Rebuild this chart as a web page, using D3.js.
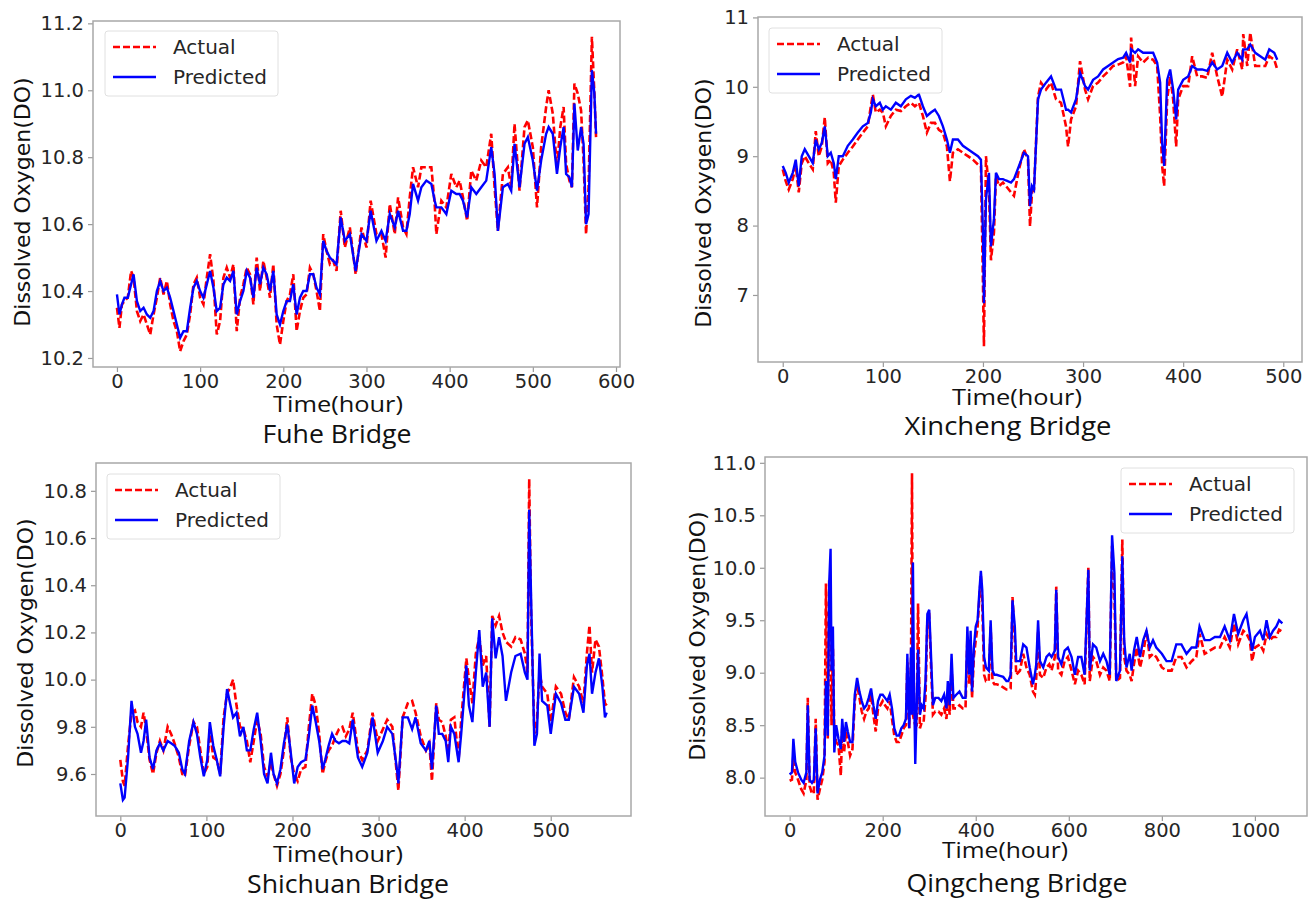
<!DOCTYPE html>
<html>
<head>
<meta charset="utf-8">
<script src="https://cdn.jsdelivr.net/npm/d3@7"></script>
<style>
body { margin: 0; background: #fff; }
.tick text { font-family: "DejaVu Sans", sans-serif; fill: #262626; }
</style>
</head>
<body>
<div class="main"></div>
<script>
const WIDTH = 1309;
const HEIGHT = 901;

// Fuhe Bridge
const fuheHours = [0,3,6,9,13,17,20,24,28,32,36,40,44,48,52,56,60,64,68,72,76,80,84,88,92,96,100,104,108,112,116,120,124,128,132,136,140,144,148,152,156,160,164,168,172,176,180,184,188,192,196,200,204,208,212,216,220,224,228,232,236,240,244,248,252,256,260,264,269,274,280,287,294,300,305,312,318,323,328,334,338,344,348,352,356,362,366,372,378,382,384,390,396,402,408,412,416,421,426,432,438,444,450,454,458,464,470,474,478,484,490,494,500,505,510,516,519,524,529,533,537,540,544,547,550,554,558,561,564,567,571,574,576];
const fuheActual = [10.35,10.29,10.36,10.37,10.38,10.46,10.44,10.34,10.31,10.33,10.30,10.27,10.33,10.38,10.44,10.39,10.43,10.36,10.31,10.28,10.22,10.25,10.27,10.33,10.42,10.44,10.38,10.36,10.44,10.51,10.43,10.27,10.31,10.44,10.47,10.44,10.48,10.28,10.38,10.42,10.47,10.45,10.36,10.50,10.40,10.49,10.44,10.38,10.48,10.30,10.24,10.31,10.37,10.39,10.45,10.28,10.34,10.38,10.39,10.47,10.45,10.40,10.34,10.57,10.52,10.48,10.49,10.46,10.64,10.53,10.59,10.45,10.59,10.53,10.67,10.57,10.57,10.50,10.66,10.57,10.68,10.59,10.57,10.68,10.77,10.71,10.77,10.77,10.77,10.66,10.57,10.67,10.65,10.75,10.71,10.73,10.68,10.61,10.76,10.73,10.79,10.77,10.87,10.71,10.58,10.75,10.77,10.71,10.90,10.70,10.89,10.91,10.83,10.65,10.83,10.95,11.00,10.93,10.77,10.89,10.95,10.78,10.73,10.71,11.02,10.99,10.94,10.79,10.57,10.71,11.16,10.99,10.86];
const fuhePredicted = [10.39,10.33,10.36,10.38,10.38,10.42,10.45,10.37,10.34,10.35,10.33,10.32,10.34,10.40,10.43,10.40,10.41,10.38,10.34,10.30,10.26,10.28,10.28,10.35,10.41,10.43,10.40,10.38,10.42,10.46,10.41,10.34,10.35,10.42,10.44,10.43,10.46,10.33,10.37,10.40,10.46,10.44,10.38,10.47,10.42,10.47,10.45,10.40,10.46,10.33,10.30,10.34,10.37,10.37,10.42,10.33,10.38,10.40,10.40,10.45,10.45,10.41,10.39,10.55,10.52,10.50,10.49,10.48,10.62,10.55,10.57,10.46,10.57,10.55,10.64,10.55,10.58,10.55,10.63,10.59,10.64,10.58,10.58,10.63,10.72,10.67,10.71,10.73,10.72,10.67,10.65,10.65,10.63,10.70,10.69,10.69,10.67,10.62,10.71,10.69,10.71,10.73,10.83,10.75,10.58,10.71,10.72,10.70,10.84,10.71,10.84,10.86,10.79,10.70,10.79,10.87,10.89,10.87,10.75,10.83,10.89,10.75,10.74,10.71,10.96,10.82,10.89,10.84,10.60,10.63,11.06,10.99,10.87];

// Xincheng Bridge
const xinchengHours = [0,3,6,10,13,16,19,22,26,30,33,36,39,42,45,48,51,53,56,60,65,70,75,80,85,88,90,93,97,100,103,108,113,118,123,128,132,136,140,144,148,152,156,160,164,167,170,175,180,185,190,195,198,200,201,203,206,208,211,213,216,220,223,228,231,236,241,245,247,249,251,255,258,263,268,273,278,283,285,288,293,297,302,305,310,315,320,325,330,335,340,343,347,348,352,355,360,365,370,374,377,379,381,384,387,390,393,395,400,405,409,414,419,424,429,434,439,444,449,454,459,460,464,467,472,477,482,486,491,494];
const xinchengActual = [8.81,8.64,8.52,8.67,8.86,8.48,8.90,9.00,8.90,8.81,9.36,9.00,9.14,9.56,8.90,8.95,8.76,8.33,8.86,8.95,9.05,9.14,9.24,9.34,9.43,9.72,9.89,9.63,9.67,9.63,9.43,9.58,9.67,9.65,9.72,9.77,9.72,9.77,9.58,9.34,9.48,9.48,9.38,9.34,9.14,8.64,9.05,9.10,9.05,9.00,8.95,8.88,8.86,7.18,6.26,9.00,8.52,7.50,7.90,8.71,8.57,8.62,8.57,8.48,8.43,8.81,9.10,8.95,7.99,8.48,8.52,9.86,10.06,9.96,10.06,9.82,9.77,9.43,9.14,9.53,9.72,10.37,9.96,9.82,10.01,10.06,10.15,10.22,10.30,10.32,10.35,10.44,10.00,10.71,10.01,10.44,10.35,10.42,10.39,10.30,9.58,8.86,8.57,9.82,10.15,9.82,9.14,9.82,10.01,10.01,10.44,10.15,10.15,10.13,10.49,10.15,9.86,10.39,10.25,10.54,10.25,10.76,10.30,10.78,10.30,10.30,10.30,10.44,10.39,10.25];
const xinchengPredicted = [8.86,8.76,8.62,8.76,8.95,8.57,9.00,9.10,9.00,8.90,9.24,9.10,9.19,9.43,9.00,9.05,8.90,8.67,9.00,9.00,9.15,9.24,9.34,9.43,9.48,9.63,9.82,9.72,9.77,9.67,9.72,9.67,9.77,9.72,9.82,9.87,9.84,9.89,9.72,9.58,9.63,9.67,9.58,9.43,9.24,9.05,9.24,9.24,9.15,9.10,9.05,9.00,8.95,7.90,6.88,8.38,8.76,7.70,8.10,8.76,8.67,8.67,8.65,8.62,8.67,8.86,9.05,9.00,8.28,8.57,8.52,9.82,9.96,10.06,10.15,9.96,9.96,9.67,9.67,9.63,9.82,10.20,10.01,9.96,10.10,10.15,10.25,10.30,10.35,10.40,10.42,10.49,10.35,10.54,10.49,10.54,10.49,10.49,10.49,10.35,10.06,9.19,8.86,10.10,10.25,9.96,9.53,9.96,10.10,10.15,10.30,10.25,10.25,10.23,10.35,10.25,10.30,10.49,10.35,10.49,10.39,10.54,10.54,10.61,10.49,10.44,10.39,10.54,10.49,10.39];

// Shichuan Bridge
const shichuanHours = [0,3,5,9,13,17,20,24,27,30,34,38,42,46,50,55,59,63,68,72,75,80,85,89,93,97,101,104,108,112,116,120,124,128,131,135,139,143,147,151,155,159,163,167,171,175,178,182,186,190,194,198,202,206,210,215,219,223,227,231,235,238,242,246,250,254,258,262,266,270,276,281,287,293,299,305,310,316,322,323,328,334,339,343,349,355,359,362,367,370,374,378,381,384,388,393,396,399,402,405,409,413,417,421,425,429,432,436,440,444,448,454,459,465,470,473,475,477,481,484,487,490,496,500,506,512,517,521,527,533,538,542,545,548,552,556,560,563,565];
const shichuanActual = [9.66,9.57,9.55,9.72,9.86,9.87,9.82,9.80,9.86,9.79,9.66,9.60,9.69,9.74,9.70,9.80,9.77,9.73,9.67,9.60,9.59,9.72,9.82,9.80,9.70,9.60,9.63,9.79,9.67,9.66,9.60,9.84,9.94,9.97,10.00,9.89,9.80,9.79,9.74,9.65,9.74,9.83,9.77,9.63,9.59,9.65,9.60,9.55,9.60,9.70,9.84,9.67,9.60,9.57,9.62,9.63,9.80,9.94,9.89,9.77,9.60,9.65,9.70,9.72,9.76,9.79,9.80,9.76,9.79,9.86,9.70,9.66,9.70,9.86,9.74,9.79,9.83,9.80,9.57,9.53,9.84,9.90,9.91,9.86,9.76,9.70,9.73,9.57,9.90,9.83,9.82,9.76,9.69,9.83,9.84,9.66,9.83,9.96,10.09,10.00,9.90,10.11,10.18,10.06,10.10,9.80,10.27,10.23,10.27,10.20,10.16,10.14,10.18,10.17,10.11,10.03,10.85,10.31,9.77,9.83,10.03,9.97,9.94,9.82,9.97,9.94,9.86,9.83,10.01,9.97,9.90,10.11,10.23,10.03,10.17,10.14,10.01,9.90,9.89];
const shichuanPredicted = [9.56,9.49,9.50,9.67,9.91,9.80,9.77,9.69,9.74,9.83,9.67,9.62,9.70,9.73,9.70,9.74,9.73,9.72,9.69,9.62,9.60,9.74,9.82,9.77,9.67,9.59,9.66,9.82,9.72,9.66,9.59,9.80,9.96,9.89,9.84,9.86,9.76,9.80,9.70,9.70,9.79,9.86,9.74,9.60,9.56,9.69,9.60,9.56,9.62,9.73,9.81,9.69,9.56,9.63,9.65,9.66,9.76,9.89,9.82,9.74,9.62,9.66,9.72,9.77,9.74,9.73,9.74,9.74,9.73,9.83,9.67,9.63,9.69,9.84,9.69,9.74,9.80,9.77,9.60,9.56,9.84,9.84,9.79,9.84,9.73,9.70,9.74,9.62,9.89,9.77,9.77,9.74,9.65,9.80,9.77,9.65,9.77,9.91,10.06,9.89,9.82,10.03,10.21,9.97,10.03,9.80,10.26,10.09,10.18,10.10,9.91,10.03,10.10,10.11,10.03,10.00,10.72,10.38,9.72,9.77,10.11,9.91,9.89,9.77,9.94,9.90,9.83,9.83,9.97,9.94,9.86,10.06,10.11,9.94,10.03,10.09,9.97,9.84,9.86];

// Qingcheng Bridge
const qingchengHours = [0,5,8,12,18,25,30,36,39,43,48,52,56,60,65,70,75,78,82,85,88,90,93,96,100,105,110,113,117,121,125,130,135,140,145,150,155,160,165,170,175,180,185,190,195,200,205,210,215,220,225,230,235,240,245,250,253,257,261,263,265,267,270,273,276,280,284,288,292,296,300,304,308,313,320,326,332,337,340,344,348,352,358,365,372,378,382,386,389,392,396,400,404,408,411,414,418,422,428,432,436,440,445,452,459,466,470,475,479,484,487,495,502,509,516,523,527,530,534,538,545,552,558,563,570,573,577,584,591,598,606,613,620,627,634,642,645,652,659,667,674,681,688,693,698,702,710,715,719,724,731,735,740,746,753,760,767,774,781,788,800,810,821,831,842,853,864,874,881,892,903,914,925,935,946,955,964,975,982,989,994,1000,1011,1018,1025,1032,1039,1046,1052,1059];
const qingchengActual = [7.97,7.98,8.21,8.05,7.98,7.89,7.85,7.98,8.76,7.92,7.85,7.85,8.56,7.79,7.89,7.98,8.15,9.85,8.37,9.88,9.31,8.50,9.24,8.44,8.34,8.31,8.02,8.47,8.24,8.44,8.34,8.21,8.27,8.73,8.89,8.76,8.63,8.56,8.63,8.66,8.79,8.60,8.44,8.66,8.69,8.73,8.69,8.66,8.73,8.56,8.40,8.34,8.34,8.40,8.47,8.50,9.11,8.47,9.15,10.90,8.60,8.55,8.50,8.50,9.66,8.47,8.53,8.53,8.76,9.50,9.53,9.05,8.60,8.63,8.63,8.60,8.66,8.56,8.79,8.60,9.05,8.66,8.66,8.69,8.66,8.66,9.34,8.89,9.31,8.76,9.15,9.31,9.44,9.73,9.92,9.66,8.98,8.92,8.92,9.44,8.92,8.89,8.89,8.88,8.86,8.84,8.84,8.85,9.72,9.31,8.98,9.02,9.18,9.05,8.98,8.82,8.79,8.95,9.40,8.98,8.95,9.05,9.08,9.02,9.15,9.82,9.02,8.98,9.11,9.15,9.02,8.89,9.02,8.98,8.89,10.00,8.92,9.15,9.11,8.98,9.05,9.02,8.92,10.21,9.73,8.92,8.95,10.27,9.15,9.02,8.98,8.92,9.08,9.24,9.05,9.18,9.40,9.15,9.18,9.15,9.05,9.02,9.02,9.15,9.15,9.05,9.11,9.15,9.37,9.18,9.21,9.24,9.24,9.34,9.24,9.47,9.27,9.40,9.37,9.31,9.11,9.24,9.27,9.21,9.37,9.31,9.34,9.34,9.41,9.39];
const qingchengPredicted = [8.03,8.05,8.37,8.15,8.05,7.98,7.95,8.05,8.69,7.98,7.95,7.98,8.47,7.85,7.98,8.05,8.21,8.92,8.40,9.85,10.18,9.02,9.44,8.24,8.50,8.37,8.27,8.56,8.34,8.53,8.44,8.34,8.34,8.79,8.95,8.82,8.73,8.66,8.69,8.76,8.85,8.69,8.56,8.73,8.79,8.79,8.76,8.73,8.79,8.66,8.47,8.40,8.40,8.47,8.50,8.56,9.18,8.47,9.24,8.60,10.05,9.00,8.13,8.66,9.22,8.60,8.69,8.66,8.92,9.56,9.60,9.15,8.69,8.76,8.76,8.73,8.79,8.66,8.92,8.69,9.18,8.76,8.79,8.82,8.76,8.76,9.44,8.98,9.40,8.82,9.24,9.44,9.50,9.79,9.97,9.79,9.15,9.05,9.02,9.50,9.02,8.98,8.98,8.97,8.96,8.92,8.92,8.98,9.69,9.44,9.11,9.11,9.27,9.24,9.05,8.89,8.98,9.08,9.50,9.11,9.05,9.15,9.18,9.15,9.21,9.79,9.15,9.08,9.21,9.24,9.15,8.98,9.15,9.15,8.98,9.98,9.02,9.27,9.24,9.11,9.18,9.11,8.98,10.31,9.95,8.92,9.02,10.11,9.31,9.05,9.18,9.02,9.21,9.34,9.15,9.31,9.40,9.24,9.31,9.24,9.18,9.11,9.11,9.27,9.27,9.18,9.24,9.24,9.44,9.31,9.31,9.34,9.34,9.44,9.31,9.56,9.37,9.50,9.56,9.37,9.21,9.34,9.40,9.31,9.50,9.34,9.40,9.44,9.50,9.47];

// tick labels
const fuheXTicks = [0, 100, 200, 300, 400, 500, 600];
const fuheYTicks = [10.2, 10.4, 10.6, 10.8, 11.0, 11.2];
const xinchengXTicks = [0, 100, 200, 300, 400, 500];
const xinchengYTicks = [7, 8, 9, 10, 11];
const shichuanXTicks = [0, 100, 200, 300, 400, 500];
const shichuanYTicks = [9.6, 9.8, 10.0, 10.2, 10.4, 10.6, 10.8];
const qingchengXTicks = [0, 200, 400, 600, 800, 1000];
const qingchengYTicks = [8.0, 8.5, 9.0, 9.5, 10.0, 10.5, 11.0];

const seriesNames = ["Actual", "Predicted"];

var svg = d3.select(".main")
    .append("svg")
        .attr("width", WIDTH)
        .attr("height", HEIGHT);

// layout of each panel: frame box, legend corner, label anchors
var panels = [
    {name: "Fuhe Bridge", hours: fuheHours, actual: fuheActual, predicted: fuhePredicted,
     xTicks: fuheXTicks, yTicks: fuheYTicks, yFmt: ".1f",
     box: [93, 21, 620, 367], legend: [105, 31],
     ylab: [22, 202], xlab: [338, 412, 130], title: [337, 443, 149]},
    {name: "Xincheng Bridge", hours: xinchengHours, actual: xinchengActual, predicted: xinchengPredicted,
     xTicks: xinchengXTicks, yTicks: xinchengYTicks, yFmt: "d",
     box: [758, 17, 1302, 362], legend: [769, 28],
     ylab: [703, 203], xlab: [1017, 405, 130], title: [1008, 435, 207]},
    {name: "Shichuan Bridge", hours: shichuanHours, actual: shichuanActual, predicted: shichuanPredicted,
     xTicks: shichuanXTicks, yTicks: shichuanYTicks, yFmt: ".1f",
     box: [96, 463, 631, 816], legend: [107, 474],
     ylab: [25, 643], xlab: [338, 862, 130], title: [348, 893, 202]},
    {name: "Qingcheng Bridge", hours: qingchengHours, actual: qingchengActual, predicted: qingchengPredicted,
     xTicks: qingchengXTicks, yTicks: qingchengYTicks, yFmt: ".1f",
     box: [765, 457, 1307, 816], legend: [1121, 468],
     ylab: [697, 636], xlab: [1005, 858, 126], title: [1017, 892, 221]}
];

function padded(ext) {
    var m = (ext[1] - ext[0]) * 0.05;
    return [ext[0] - m, ext[1] + m];
}

panels.forEach(p => {
    var [x0, y0, x1, y1] = p.box;
    var g = svg.append("g");

    var x = d3.scaleLinear()
        .domain(padded(d3.extent(p.hours)))
        .range([x0, x1]);
    var y = d3.scaleLinear()
        .domain(padded(d3.extent(p.actual.concat(p.predicted))))
        .range([y1, y0]);

    var xAxis = g.append("g")
        .attr("transform", `translate(0,${y1})`)
        .call(d3.axisBottom(x).tickValues(p.xTicks).tickFormat(d3.format("d")).tickSize(5).tickPadding(2));
    var yAxis = g.append("g")
        .attr("transform", `translate(${x0},0)`)
        .call(d3.axisLeft(y).tickValues(p.yTicks).tickFormat(d3.format(p.yFmt)).tickSize(5).tickPadding(4));
    [xAxis, yAxis].forEach(a => {
        a.select(".domain").remove();
        a.selectAll(".tick line").attr("stroke", "#9a9a9a").attr("stroke-width", 1.2);
        a.selectAll(".tick text").attr("font-size", 19.5);
    });

    var clip = "clip" + x0 + "_" + y0;
    g.append("clipPath").attr("id", clip)
        .append("rect").attr("x", x0).attr("y", y0).attr("width", x1 - x0).attr("height", y1 - y0);

    var line = d3.line()
        .x((d, i) => x(p.hours[i]))
        .y(d => y(d));

    g.append("path")
        .datum(p.actual)
        .attr("clip-path", `url(#${clip})`)
        .attr("fill", "none")
        .attr("stroke", "#ff0000")
        .attr("stroke-width", 2.6)
        .attr("stroke-dasharray", "7,3")
        .attr("d", line);
    g.append("path")
        .datum(p.predicted)
        .attr("clip-path", `url(#${clip})`)
        .attr("fill", "none")
        .attr("stroke", "#0000ff")
        .attr("stroke-width", 2.4)
        .attr("d", line);

    g.append("rect")
        .attr("x", x0).attr("y", y0)
        .attr("width", x1 - x0).attr("height", y1 - y0)
        .attr("fill", "none")
        .attr("stroke", "#a8a8a8")
        .attr("stroke-width", 1.5);

    // legend
    var [lx, ly] = p.legend;
    var lg = g.append("g").attr("transform", `translate(${lx},${ly})`);
    lg.append("rect")
        .attr("width", 173).attr("height", 65).attr("rx", 3)
        .attr("fill", "#fff").attr("fill-opacity", 0.8)
        .attr("stroke", "#e0e0e0").attr("stroke-width", 1);
    seriesNames.forEach((s, i) => {
        var ry = 16 + i * 30;
        lg.append("line")
            .attr("x1", 8).attr("x2", 51).attr("y1", ry).attr("y2", ry)
            .attr("stroke", i === 0 ? "#ff0000" : "#0000ff")
            .attr("stroke-width", 2.4)
            .attr("stroke-dasharray", i === 0 ? "7,3" : null);
        lg.append("text")
            .attr("x", 68).attr("y", ry + 7)
            .attr("font-family", "DejaVu Sans, sans-serif")
            .attr("font-size", 20)
            .attr("fill", "#262626")
            .text(s);
    });

    g.append("text")
        .attr("transform", `translate(${p.ylab[0]},${p.ylab[1]}) rotate(-90)`)
        .attr("text-anchor", "middle")
        .attr("dominant-baseline", "central")
        .attr("font-family", "DejaVu Sans, sans-serif")
        .attr("font-size", 22)
        .attr("fill", "#111")
        .text("Dissolved Oxygen(DO)");

    g.append("text")
        .attr("x", p.xlab[0]).attr("y", p.xlab[1])
        .attr("text-anchor", "middle")
        .attr("font-family", "Open Sans, sans-serif")
        .attr("font-size", 22.5)
        .attr("textLength", p.xlab[2])
        .attr("lengthAdjust", "spacingAndGlyphs")
        .attr("fill", "#111")
        .text("Time(hour)");

    g.append("text")
        .attr("x", p.title[0]).attr("y", p.title[1])
        .attr("text-anchor", "middle")
        .attr("font-family", "Open Sans, sans-serif")
        .attr("font-size", 25)
        .attr("textLength", p.title[2])
        .attr("lengthAdjust", "spacingAndGlyphs")
        .attr("fill", "#111")
        .text(p.name);
});
</script>
</body>
</html>
